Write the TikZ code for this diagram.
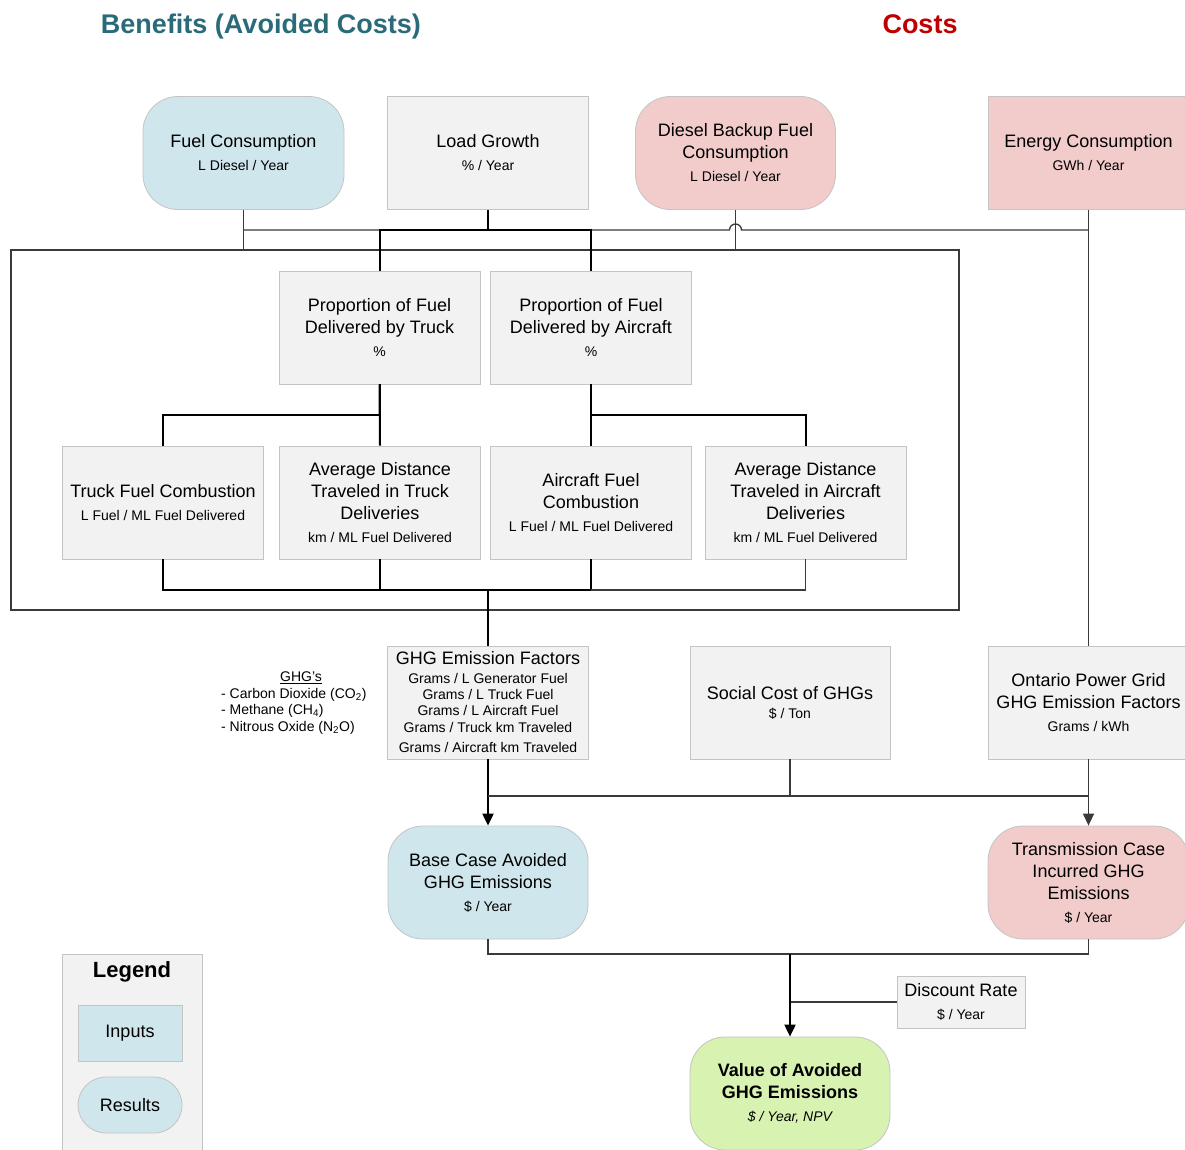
\documentclass[tikz,border=0pt]{standalone}
\usepackage{fontspec}
\setmainfont{Liberation Sans}
\usetikzlibrary{arrows.meta}

\definecolor{titleteal}{HTML}{2A6B7A}
\definecolor{titlered}{HTML}{C00000}
\definecolor{grayfill}{HTML}{F2F2F2}
\definecolor{bluefill}{HTML}{CFE6EC}
\definecolor{pinkfill}{HTML}{F2CBCB}
\definecolor{greenfill}{HTML}{D8F2B2}
\definecolor{boxedge}{HTML}{C4C4C4}
\definecolor{wirecol}{HTML}{3A3A3A}

\newcommand\mainsz{\fontsize{18}{22}\selectfont}
\newcommand\subsz{\fontsize{14}{17}\selectfont}

\tikzset{
  box/.style={draw=boxedge, line width=0.8pt, minimum width=201pt, minimum height=113pt,
              inner sep=0pt, align=center, font=\mainsz},
  inputbox/.style={box, fill=grayfill},
  blueresult/.style={box, fill=bluefill, rounded corners=35pt},
  pinkresult/.style={box, fill=pinkfill, rounded corners=35pt},
  pinkinput/.style={box, fill=pinkfill},
  greenresult/.style={box, fill=greenfill, rounded corners=35pt},
  wire/.style={draw=wirecol, line width=1.3pt},
  bus/.style={draw=black, line width=2pt},
  tip/.style={-{Triangle[length=12pt,width=11pt]}},
  heading/.style={anchor=base, inner sep=0pt, font=\fontsize{27}{32}\selectfont\bfseries},
}

\begin{document}
\begin{tikzpicture}[x=1pt,y=-1pt]
\clip (0,0) rectangle (1185,1149);
\fill[white] (0,0) rectangle (1185,1149);

% headings
\node[heading, text=titleteal] (benefits) at (261,33) {Benefits (Avoided Costs)};
\node[heading, text=titlered] (costs) at (920,33) {Costs};

% frame around the fuel delivery model
\node[draw=wirecol, line width=1.3pt, minimum width=948pt, minimum height=360pt, inner sep=0pt] (frame) at (485,430) {};

% top row
\node[blueresult] (fuel) at (243.5,153) {Fuel Consumption\\[1pt]{\subsz L Diesel / Year}};
\node[inputbox] (load) at (488,153) {Load Growth\\[1pt]{\subsz \% / Year}};
\node[pinkresult, minimum width=200pt] (diesel) at (735.5,153) {Diesel Backup Fuel\\Consumption\\[1pt]{\subsz L Diesel / Year}};
\node[pinkinput] (energy) at (1088.5,153) {Energy Consumption\\[1pt]{\subsz GWh / Year}};

% delivery proportions
\node[inputbox] (ptruck) at (379.5,327.5) {Proportion of Fuel\\Delivered by Truck\\[1pt]{\subsz \%}};
\node[inputbox] (pair) at (591,327.5) {Proportion of Fuel\\Delivered by Aircraft\\[1pt]{\subsz \%}};

% delivery factors
\node[inputbox] (tfc) at (163,502.5) {Truck Fuel Combustion\\[1pt]{\subsz L Fuel / ML Fuel Delivered}};
\node[inputbox] (adt) at (380,502.5) {Average Distance\\Traveled in Truck\\Deliveries\\[1pt]{\subsz km / ML Fuel Delivered}};
\node[inputbox] (afc) at (591,502.5) {Aircraft Fuel\\Combustion\\[1pt]{\subsz L Fuel / ML Fuel Delivered}};
\node[inputbox] (ada) at (805.5,502.5) {Average Distance\\Traveled in Aircraft\\Deliveries\\[1pt]{\subsz km / ML Fuel Delivered}};

% emission factors and costs
\node[inputbox, font=\fontsize{14}{16.3}\selectfont] (ghgf) at (488,702.5)
  {{\mainsz GHG Emission Factors}\\[2pt]Grams / L Generator Fuel\\Grams / L Truck Fuel\\Grams / L Aircraft Fuel\\Grams / Truck km Traveled\\[4.5pt]Grams / Aircraft km Traveled};
\node[inputbox, minimum width=200pt] (social) at (790,702.5) {Social Cost of GHGs\\[-3pt]{\subsz \$ / Ton}};
\node[inputbox] (ontario) at (1088.5,702.5) {Ontario Power Grid\\GHG Emission Factors\\[1pt]{\subsz Grams / kWh}};

% list of gases
\node[font=\fontsize{14}{16.5}\selectfont] (ghghead) at (301,678) {\underline{GHG’s}};
\node[font=\fontsize{14}{16.5}\selectfont, align=left, anchor=west, inner sep=0pt] (ghglist) at (221,711)
  {- Carbon Dioxide (CO\textsubscript{2})\\- Methane (CH\textsubscript{4})\\- Nitrous Oxide (N\textsubscript{2}O)};

% results
\node[blueresult, minimum width=200pt] (base) at (488,882.5) {Base Case Avoided\\GHG Emissions\\[1pt]{\subsz \$ / Year}};
\node[pinkresult] (trans) at (1088.5,882.5) {Transmission Case\\Incurred GHG\\Emissions\\[1pt]{\subsz \$ / Year}};
\node[inputbox, minimum width=128pt, minimum height=52pt] (disc) at (961,1002) {Discount Rate\\[1pt]{\subsz \$ / Year}};
\node[greenresult, minimum width=200pt, minimum height=113pt, font=\mainsz\bfseries] (value) at (790,1093.5)
  {Value of Avoided\\GHG Emissions\\[1pt]{\subsz\mdseries\itshape \$ / Year, NPV}};

% legend
\node[draw=boxedge, fill=grayfill, line width=0.8pt, minimum width=140pt, minimum height=220pt, anchor=north, inner sep=0pt] (legendbox) at (132,953.5) {};
\node[font=\fontsize{22}{26}\selectfont\bfseries] (legendtitle) at (132,971.5) {Legend};
\node[draw=boxedge, fill=bluefill, line width=0.8pt, minimum width=104pt, minimum height=56pt, font=\mainsz] (leginputs) at (130,1033) {Inputs};
\node[draw=boxedge, fill=bluefill, line width=0.8pt, minimum width=104pt, minimum height=56pt, rounded corners=28pt, font=\mainsz] (legresults) at (130,1105) {Results};

% connectors: top feeders
\coordinate (hop) at (diesel.south |- 0,230);
\draw[wire] (fuel.south) -- (fuel.south |- frame.north);
\draw[wire] (fuel.south |- 0,230) -- ([xshift=-6pt]hop) arc[start angle=180, end angle=0, radius=6pt] -- (energy.south |- 0,230);
\draw[wire] (diesel.south) -- (diesel.south |- frame.north);
\draw[wire] (energy.south) -- (ontario.north);
\draw[bus] (load.south) -- (load.south |- 0,230) -| (ptruck.north);
\draw[bus] (load.south |- 0,230) -| (pair.north);

% connectors: inside the frame
\draw[bus] (ptruck.south) -- (adt.north);
\draw[bus] (ptruck.south) -- ++(0,31) -| (tfc.north);
\draw[bus] (pair.south) -- (afc.north);
\draw[bus] (pair.south) -- ++(0,31) -| (ada.north);
\coordinate (merge) at (ghgf.north |- 0,590);
\draw[bus] (tfc.south) |- (merge);
\draw[bus] (adt.south) -- (adt.south |- merge);
\draw[bus] (afc.south) |- (merge);
\draw[wire] (ada.south) |- (afc.south |- merge);
\draw[bus] (merge) -- (ghgf.north);

% connectors: emissions
\draw[bus, tip] (ghgf.south) -- (base.north);
\coordinate (sj) at (social.south |- 0,796);
\draw[wire] (social.south) -- (sj);
\draw[wire] (sj -| base.north) -- (sj -| trans.north);
\draw[wire, tip] (ontario.south) -- (trans.north);

% connectors: valuation
\coordinate (jn) at (value.north |- 0,954);
\draw[wire] (base.south) |- (jn);
\draw[wire] (trans.south) |- (jn);
\draw[wire] (disc.west) -- (disc.west -| value.north);
\draw[bus, tip] (jn) -- (value.north);
\end{tikzpicture}
\end{document}
